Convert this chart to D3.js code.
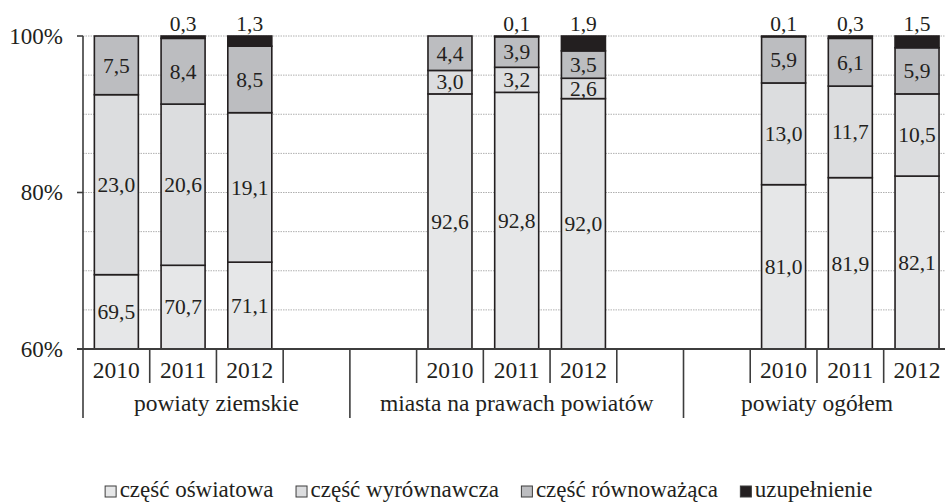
<!DOCTYPE html>
<html><head><meta charset="utf-8">
<script src="https://cdn.jsdelivr.net/npm/d3@7"></script>
<style>
html,body{margin:0;padding:0;background:#fff;}
svg{display:block;}
text{font-family:"Liberation Serif","Times New Roman",serif;fill:#231f20;}
</style></head>
<body>
<svg id="chart" width="945" height="503"></svg>
<script>
// ---- data ----
const groups = ["powiaty ziemskie", "miasta na prawach powiatów", "powiaty ogółem"];
const years = ["2010", "2011", "2012"];
const seriesNames = ["część oświatowa", "część wyrównawcza", "część równoważąca", "uzupełnienie"];
const oswiatowa    = [69.5, 70.7, 71.1, 92.6, 92.8, 92.0, 81.0, 81.9, 82.1];
const wyrownawcza  = [23.0, 20.6, 19.1,  3.0,  3.2,  2.6, 13.0, 11.7, 10.5];
const rownowazaca  = [ 7.5,  8.4,  8.5,  4.4,  3.9,  3.5,  5.9,  6.1,  5.9];
const uzupelnienie = [ 0.0,  0.3,  1.3,  0.0,  0.1,  1.9,  0.1,  0.3,  1.5];
const yTickLabels = [60, 80, 100];
const gridValues = [65, 70, 75, 80, 85, 90, 95, 100];
// slot layout per group (blank slots keep spacing between groups)
const groupSlots = [
  ["2010", "2011", "2012", "_b"],
  ["_b", "2010", "2011", "2012", "_b"],
  ["_b", "2010", "2011", "2012"]
];
const colors = ["#e6e7e8", "#dcdddf", "#bcbdc0", "#231f20"];

// ---- build ----
const svg = d3.select("#chart");
const slots = [];
groupSlots.forEach((gs, gi) => gs.forEach((s, si) => slots.push({key: gi + "-" + si, g: gi, year: s})));
const x = d3.scaleBand().domain(slots.map(d => d.key)).range([83, 950.4]).padding(0);
const y = d3.scaleLinear().domain([60, 100]).range([349, 36]);
const barW = 44;
const ink = "#231f20";
const axisCol = "#3d3d3d";

// gridlines
svg.append("g").selectAll("line").data(gridValues).join("line")
  .attr("x1", 83).attr("x2", 945)
  .attr("y1", d => y(d)).attr("y2", d => y(d))
  .attr("stroke", "#b0b0b0").attr("stroke-width", 1).attr("stroke-dasharray", "1.5,1");

// stacked data
const allSeries = [oswiatowa, wyrownawcza, rownowazaca, uzupelnienie];
const records = [];
let idx = 0;
slots.forEach(s => {
  if (s.year === "_b") return;
  const r = {slot: s.key};
  seriesNames.forEach((n, k) => r[n] = allSeries[k][idx]);
  records.push(r);
  idx++;
});
const stack = d3.stack().keys(seriesNames)(records);

const gBars = svg.append("g");
stack.forEach((layer, k) => {
  const sel = gBars.append("g");
  layer.forEach(d => {
    const v = d[1] - d[0];
    if (v <= 0) return;
    const y0 = Math.max(d[0], 60), y1 = d[1];
    const cx = x(d.data.slot) + x.bandwidth() / 2;
    sel.append("rect")
      .attr("x", cx - barW / 2).attr("width", barW)
      .attr("y", y(y1)).attr("height", y(y0) - y(y1))
      .attr("fill", colors[k]).attr("stroke", ink).attr("stroke-width", 1.6);
  });
});
// labels
const fmt = v => d3.format(".1f")(v).replace(".", ",");
stack.forEach((layer, k) => {
  layer.forEach(d => {
    const v = d[1] - d[0];
    if (v <= 0) return;
    const cx = x(d.data.slot) + x.bandwidth() / 2;
    if (k === 3) {
      svg.append("text").attr("x", cx).attr("y", y(100) - 5)
        .attr("text-anchor", "middle").attr("font-size", 21.5).text(fmt(v));
    } else {
      const mid = (Math.max(d[0], 60) + d[1]) / 2;
      svg.append("text").attr("x", cx).attr("y", y(mid)).attr("dy", "0.34em")
        .attr("text-anchor", "middle").attr("font-size", 21.5).text(fmt(v));
    }
  });
});

// y axis
const yAxisG = svg.append("g");
yAxisG.append("line").attr("x1", 83).attr("x2", 83).attr("y1", y(100)).attr("y2", 418)
  .attr("stroke", axisCol).attr("stroke-width", 1.6);
yAxisG.selectAll("line.t").data(yTickLabels).join("line").attr("class", "t")
  .attr("x1", 77).attr("x2", 83).attr("y1", d => y(d)).attr("y2", d => y(d))
  .attr("stroke", axisCol).attr("stroke-width", 1.6);
yAxisG.selectAll("text").data(yTickLabels).join("text")
  .attr("x", 63).attr("y", d => y(d)).attr("dy", "0.33em")
  .attr("text-anchor", "end").attr("font-size", 23).text(d => d + "%");

// x axis
svg.append("line").attr("x1", 77).attr("x2", 945).attr("y1", y(60)).attr("y2", y(60))
  .attr("stroke", axisCol).attr("stroke-width", 2);
// boundaries
const bounds = [];
slots.forEach((s, i) => {
  if (i === 0) return;
  const isGroupStart = s.g !== slots[i - 1].g;
  bounds.push({x: x(s.key), long: isGroupStart});
});
svg.append("g").selectAll("line").data(bounds).join("line")
  .attr("x1", d => d.x).attr("x2", d => d.x)
  .attr("y1", y(60)).attr("y2", d => d.long ? 418 : 383)
  .attr("stroke", axisCol).attr("stroke-width", 1.6);
// year labels
svg.append("g").selectAll("text").data(slots.filter(s => s.year !== "_b")).join("text")
  .attr("x", d => x(d.key) + x.bandwidth() / 2).attr("y", 378)
  .attr("text-anchor", "middle").attr("font-size", 23.5).text(d => d.year);
// group labels
groups.forEach((g, gi) => {
  const ss = slots.filter(s => s.g === gi);
  const x0 = x(ss[0].key), x1 = x(ss[ss.length - 1].key) + x.bandwidth();
  svg.append("text").attr("x", (x0 + x1) / 2).attr("y", 411)
    .attr("text-anchor", "middle").attr("font-size", 23.5).text(g);
});

// legend
const leg = svg.append("g");
let lx = 0;
const legGap = 22;
seriesNames.forEach((n, k) => {
  const it = leg.append("g").attr("transform", `translate(${lx},0)`);
  it.append("rect").attr("x", 0.5).attr("y", 486).attr("width", 11).attr("height", 11)
    .attr("fill", colors[k]).attr("stroke", "#3d3d3d").attr("stroke-width", 1);
  const t = it.append("text").attr("x", 15).attr("y", 497).attr("font-size", 23).text(n);
  const w = 15 + t.node().getComputedTextLength();
  lx += w + legGap;
});
const totalW = lx - legGap;
leg.attr("transform", `translate(${488.5 - totalW / 2},0)`);
</script>
</body></html>
